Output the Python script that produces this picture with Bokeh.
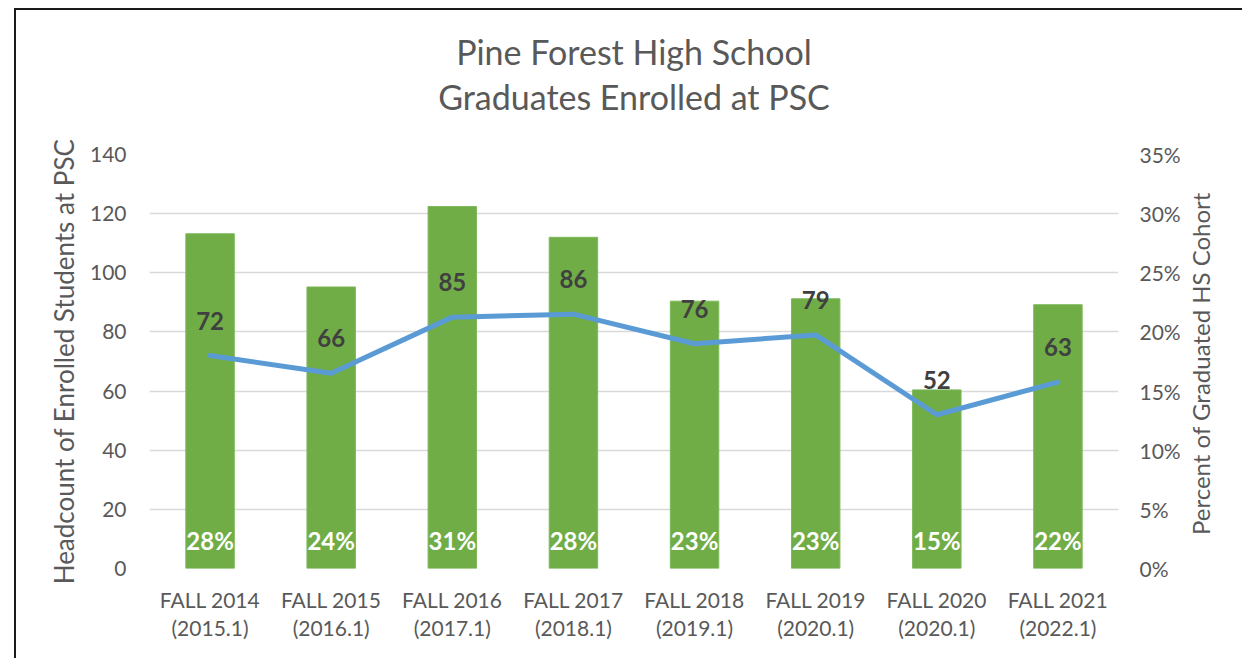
import math
from bokeh.plotting import figure
from bokeh.models import (Range1d, LinearAxis, CategoricalAxis, FixedTicker, PrintfTickFormatter,
                          ColumnDataSource, FactorRange, InlineStyleSheet)
from bokeh.core.properties import value
from bokeh.embed import file_html
from bokeh.resources import INLINE

# ---- data ----
categories = ["FALL 2014\n(2015.1)", "FALL 2015\n(2016.1)", "FALL 2016\n(2017.1)",
              "FALL 2017\n(2018.1)", "FALL 2018\n(2019.1)", "FALL 2019\n(2020.1)",
              "FALL 2020\n(2020.1)", "FALL 2021\n(2022.1)"]
pct_cohort = [28.3, 23.8, 30.6, 28.0, 22.6, 22.8, 15.1, 22.3]   # bars, right axis (%)
headcount = [72, 66, 85, 86, 76, 79, 52, 63]                      # line, left axis
left_ticks = [0, 20, 40, 60, 80, 100, 120, 140]
right_ticks = [0, 5, 10, 15, 20, 25, 30, 35]

title_lines = ["Pine Forest High School", "Graduates Enrolled at PSC"]
left_title = "Headcount of Enrolled Students at PSC"
right_title = "Percent of Graduated HS Cohort"

FONT = "Lato"
GRAY = "#595959"

src = ColumnDataSource(dict(
    cat=categories, pct=pct_cohort, head=headcount,
    zero=[0] * len(categories),
    pct_txt=[f"{v:.0f}%" for v in pct_cohort],
    head_txt=[str(v) for v in headcount],
))

W, H = 1242, 658
p = figure(width=W, height=H, x_range=FactorRange(*categories), y_range=Range1d(0, 140),
           output_backend="svg", toolbar_location=None, title=None,
           min_border_left=149, min_border_right=124, min_border_top=154, min_border_bottom=90)
p.outline_line_color = None
p.background_fill_color = "white"
p.border_fill_color = "white"
p.extra_y_ranges = {"pct": Range1d(0, 35)}
p.x_range.range_padding = 0

# grid
p.xgrid.grid_line_color = None
p.ygrid.grid_line_color = "#D9D9D9"
p.ygrid.grid_line_width = 1.5


def clean(ax):
    ax.axis_line_color = None
    ax.major_tick_line_color = None
    ax.minor_tick_line_color = None
    ax.major_tick_out = 0
    ax.major_tick_in = 0
    ax.minor_tick_out = 0
    ax.minor_tick_in = 0


# left axis
ya = p.yaxis[0]
ya.ticker = FixedTicker(ticks=left_ticks)
clean(ya)
ya.major_label_standoff = 23
ya.major_label_text_font = FONT
ya.major_label_text_font_size = "21px"
ya.major_label_text_color = GRAY
ya.axis_label = left_title
ya.axis_label_standoff = 7
ya.axis_label_text_font = FONT
ya.axis_label_text_font_size = "26px"
ya.axis_label_text_font_style = "normal"
ya.axis_label_text_color = GRAY

# right axis (tick labels)
ra = LinearAxis(y_range_name="pct", ticker=FixedTicker(ticks=right_ticks),
                formatter=PrintfTickFormatter(format="%d%%"))
clean(ra)
ra.major_label_standoff = 21
ra.major_label_text_font = FONT
ra.major_label_text_font_size = "21px"
ra.major_label_text_color = GRAY
p.add_layout(ra, "right")

# right axis title, reading bottom-to-top (one rotated label starting near the bottom)
RT_START = 2.83  # start position of the rotated title along the percent axis
rt = LinearAxis(y_range_name="pct", ticker=FixedTicker(ticks=[RT_START]),
                major_label_overrides={RT_START: right_title})
clean(rt)
rt.major_label_orientation = math.pi / 2
rt.major_label_standoff = 17
rt.major_label_text_font = FONT
rt.major_label_text_font_size = "24px"
rt.major_label_text_color = GRAY
p.add_layout(rt, "right")

# x axis
xa = p.xaxis[0]
clean(xa)
xa.major_label_standoff = 18
xa.major_label_text_font = FONT
xa.major_label_text_font_size = "21px"
xa.major_label_text_color = GRAY
xa.major_label_text_line_height = 1.15

# chart title as two label-only axes above the frame
for text, standoff in [(title_lines[1], 38), (title_lines[0], 1)]:
    ta = CategoricalAxis()
    clean(ta)
    ta.major_label_standoff = 0
    ta.major_label_text_font_size = "0px"
    ta.major_label_text_alpha = 0
    ta.axis_label = text
    ta.axis_label_standoff = standoff
    ta.axis_label_text_font = FONT
    ta.axis_label_text_font_size = "34px"
    ta.axis_label_text_font_style = "normal"
    ta.axis_label_text_color = GRAY
    p.add_layout(ta, "above")

# bars (percent, right axis)
p.vbar(x="cat", top="pct", width=0.4, source=src, y_range_name="pct",
       fill_color="#70AD47", line_color="#7DB85A", line_width=1)

# line (headcount, left axis)
p.line(x="cat", y="head", source=src, line_color="#5B9BD5", line_width=5,
       line_join="round", line_cap="round")

# data labels
p.text(x="cat", y="head", text="head_txt", source=src, y_offset=-35,
       text_align="center", text_baseline="middle", text_font=value(FONT),
       text_font_style="bold", text_font_size="24px", text_color="#404040")
p.text(x="cat", y="zero", text="pct_txt", source=src, y_range_name="pct", y_offset=-28,
       text_align="center", text_baseline="middle", text_font=value(FONT),
       text_font_style="bold", text_font_size="24px", text_color="white")

# chart border (top and left edges visible in the cropped reference)
p.stylesheets = [InlineStyleSheet(css="""
:host { position: relative; }
:host::after { content: ""; position: absolute; left: 14px; top: 8px; right: 0; bottom: 0;
  border-top: 2px solid #1a1a1a; border-left: 2px solid #1a1a1a;
  pointer-events: none; z-index: 100; }
""")]

open("out.html", "w").write(file_html(p, INLINE))
